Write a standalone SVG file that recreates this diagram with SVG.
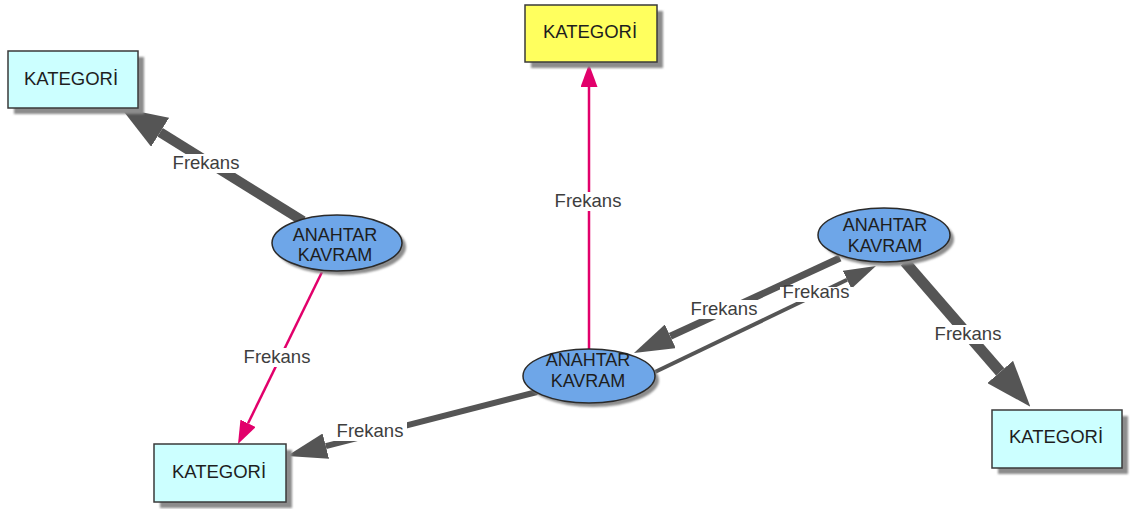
<svg xmlns="http://www.w3.org/2000/svg" width="1136" height="509" viewBox="0 0 1136 509">
  <style>
    .box { fill: #ccffff; stroke: #3a3a3a; stroke-width: 1.5; }
    .box.focus { fill: #ffff5e; }
    .oval { fill: #6ea6e8; stroke: #2a2a2a; stroke-width: 1.5; }
    .shadow { fill: #8c8c8c; filter: url(#soft); }
    .ntext { font-family: "Liberation Sans", Arial, sans-serif; font-size: 18.5px; fill: #1e1e1e; text-anchor: middle; }
    .otext { font-family: "Liberation Sans", Arial, sans-serif; font-size: 18px; fill: #1e1e1e; text-anchor: middle; }
    .ltext { font-family: "Liberation Sans", Arial, sans-serif; font-size: 18.5px; fill: #3e3e3e; text-anchor: middle; }
    .lbg { fill: #ffffff; }
    .gray { stroke: #555555; fill: none; stroke-linecap: butt; }
    .pink { stroke: #e2006b; fill: none; stroke-width: 2.5; }
  </style>
  <defs>
    <filter id="soft" x="-10%" y="-10%" width="120%" height="120%">
      <feGaussianBlur stdDeviation="0.8"/>
    </filter>
    <marker id="headXL" markerUnits="userSpaceOnUse" markerWidth="46" markerHeight="34" viewBox="0 0 46 34" refX="0" refY="17" orient="auto">
      <path d="M0,0 L46,17 L0,34 z" fill="#555555"/>
    </marker>
    <marker id="headL" markerUnits="userSpaceOnUse" markerWidth="40" markerHeight="26" viewBox="0 0 40 26" refX="0" refY="13" orient="auto">
      <path d="M0,0 L40,13 L0,26 z" fill="#555555"/>
    </marker>
    <marker id="headM" markerUnits="userSpaceOnUse" markerWidth="32" markerHeight="20" viewBox="0 0 32 20" refX="0" refY="10" orient="auto">
      <path d="M0,0 L32,10 L0,20 z" fill="#555555"/>
    </marker>
    <marker id="headPink" markerUnits="userSpaceOnUse" markerWidth="23" markerHeight="17" viewBox="0 0 23 17" refX="0" refY="8.5" orient="auto">
      <path d="M0,0 L23,8.5 L0,17 z" fill="#e2006b"/>
    </marker>
  </defs>

  <!-- connectors -->
  <g id="connectors">
    <line class="gray" x1="303" y1="221" x2="160.1" y2="132.3" stroke-width="10" marker-end="url(#headXL)"/>
    <line class="pink" x1="322" y1="272" x2="248.1" y2="423.3" marker-end="url(#headPink)"/>
    <line class="pink" x1="589" y1="349" x2="589" y2="87" marker-end="url(#headPink)"/>
    <line class="gray" x1="537" y1="392" x2="325.8" y2="446.1" stroke-width="6" marker-end="url(#headL)"/>
    <line class="gray" x1="840" y1="258" x2="670.3" y2="336.3" stroke-width="7" marker-end="url(#headL)"/>
    <line class="gray" x1="655" y1="372" x2="847.1" y2="279.8" stroke-width="4" marker-end="url(#headM)"/>
    <line class="gray" x1="905" y1="262" x2="1000.2" y2="371.9" stroke-width="11" marker-end="url(#headXL)"/>

    <!-- link labels -->
    <rect class="lbg" x="169" y="154" width="74" height="19"/>
    <text class="ltext" x="206" y="169">Frekans</text>
    <rect class="lbg" x="240" y="348" width="74" height="19"/>
    <text class="ltext" x="277" y="363">Frekans</text>
    <rect class="lbg" x="551" y="192" width="74" height="19"/>
    <text class="ltext" x="588" y="207">Frekans</text>
    <rect class="lbg" x="333" y="422" width="74" height="19"/>
    <text class="ltext" x="370" y="437">Frekans</text>
    <rect class="lbg" x="687" y="300" width="74" height="19"/>
    <text class="ltext" x="724" y="315">Frekans</text>
    <rect class="lbg" x="780" y="287" width="73" height="15"/>
    <text class="ltext" x="816" y="298">Frekans</text>
    <rect class="lbg" x="931" y="325" width="74" height="19"/>
    <text class="ltext" x="968" y="340">Frekans</text>
  </g>

  <!-- category boxes -->
  <g id="kategori-topleft">
    <rect class="shadow" x="14" y="57" width="130" height="57"/>
    <rect class="box" x="8" y="51" width="130" height="57"/>
    <text class="ntext" x="71" y="85">KATEGORİ</text>
  </g>
  <g id="kategori-top">
    <rect class="shadow" x="531" y="11" width="132" height="57"/>
    <rect class="box focus" x="525" y="5" width="132" height="57"/>
    <text class="ntext" x="590" y="38">KATEGORİ</text>
  </g>
  <g id="kategori-bottomleft">
    <rect class="shadow" x="160" y="450" width="132" height="58"/>
    <rect class="box" x="154" y="444" width="132" height="58"/>
    <text class="ntext" x="219" y="478">KATEGORİ</text>
  </g>
  <g id="kategori-bottomright">
    <rect class="shadow" x="998" y="416" width="130" height="58"/>
    <rect class="box" x="992" y="410" width="130" height="58"/>
    <text class="ntext" x="1056" y="443">KATEGORİ</text>
  </g>

  <!-- key concept ellipses -->
  <g id="kavram-left">
    <ellipse class="shadow" cx="341" cy="247" rx="65" ry="28"/>
    <ellipse class="oval" cx="337" cy="243" rx="65" ry="28"/>
    <text class="otext" x="335" y="240.5">ANAHTAR</text>
    <text class="otext" x="335" y="261">KAVRAM</text>
  </g>
  <g id="kavram-center">
    <ellipse class="shadow" cx="593" cy="380" rx="66" ry="27"/>
    <ellipse class="oval" cx="589" cy="376" rx="66" ry="27"/>
    <text class="otext" x="588" y="366">ANAHTAR</text>
    <text class="otext" x="588" y="386.5">KAVRAM</text>
  </g>
  <g id="kavram-right">
    <ellipse class="shadow" cx="888" cy="239" rx="66" ry="27"/>
    <ellipse class="oval" cx="884" cy="235" rx="66" ry="27"/>
    <text class="otext" x="885" y="231">ANAHTAR</text>
    <text class="otext" x="885" y="251.5">KAVRAM</text>
  </g>
</svg>
